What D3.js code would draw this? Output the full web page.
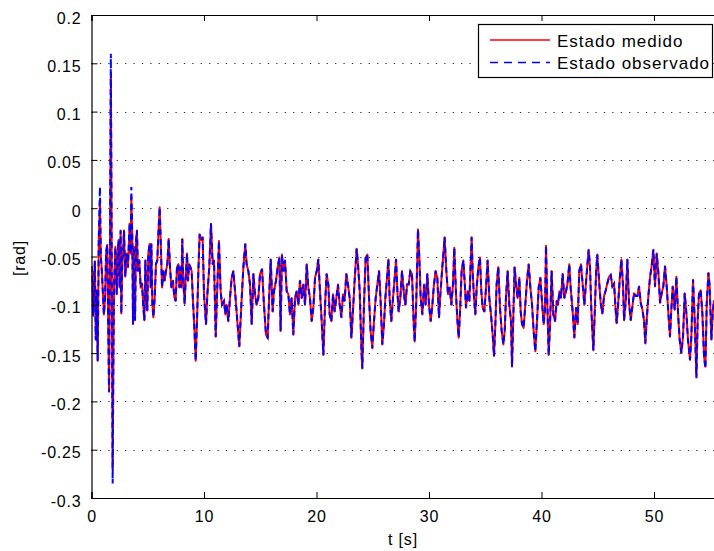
<!DOCTYPE html>
<html>
<head>
<meta charset="utf-8">
<script src="https://cdn.jsdelivr.net/npm/d3@7"></script>
<style>
  html, body { margin: 0; padding: 0; background: #ffffff; }
  svg { display: block; }
  text { font-family: "Liberation Sans", Arial, Helvetica, sans-serif; fill: #000; }
</style>
</head>
<body>
<svg id="chart" width="714" height="551"></svg>
<script>
// Time base [s]
const tiempo = [
  0.00, 0.08, 0.15, 0.22, 0.30, 0.38, 0.46, 0.55, 0.65, 0.75, 0.83, 0.92, 1.00, 1.10, 1.20, 1.30, 1.40, 1.56, 1.64, 1.72, 1.80, 1.88, 1.95,
  2.00, 2.12, 2.24, 2.33, 2.41, 2.50, 2.59, 2.65, 2.74, 2.83, 2.89, 3.00, 3.13, 3.24, 3.39, 3.48, 3.54, 3.63, 3.69, 3.78, 3.87, 3.96,
  4.04, 4.13, 4.25, 4.37, 4.49, 4.61, 4.70, 4.79, 4.87, 4.96, 5.05, 5.17, 5.26, 5.32, 5.41, 5.50, 5.62, 5.73, 5.85, 5.97, 6.06, 6.15,
  6.27, 6.39, 6.50, 6.62, 6.74, 6.86, 6.98, 7.10, 7.24, 7.36, 7.48, 7.60, 7.72, 7.81, 7.90, 7.99, 8.07, 8.16, 8.28, 8.40, 8.49, 8.58,
  8.67, 8.79, 8.90, 9.02, 9.14, 9.26, 9.38, 9.50, 9.61, 9.76,
  9.88, 10.00, 10.18, 10.30, 10.47, 10.62, 10.77, 10.89, 11.04, 11.18, 11.33, 11.48, 11.60, 11.78, 11.90, 12.01, 12.16, 12.31, 12.46,
  12.61, 12.76, 12.96, 13.14, 13.32, 13.50, 13.67, 13.79, 13.94, 14.09, 14.24, 14.39, 14.53, 14.68, 14.83, 14.98, 15.16, 15.33, 15.51,
  15.66, 15.81, 15.93, 16.10, 16.22, 16.40, 16.55, 16.70, 16.81, 16.93, 17.05, 17.20, 17.35, 17.50, 17.64, 17.79, 17.94, 18.09, 18.24,
  18.39, 18.53, 18.68, 18.83, 18.98, 19.13, 19.27, 19.42, 19.57, 19.72, 19.87, 20.02, 20.16, 20.31, 20.46, 20.61, 20.76, 20.90, 21.05,
  21.17, 21.32, 21.47, 21.61, 21.76, 21.91, 22.06, 22.21, 22.36, 22.50, 22.65, 22.80, 22.95, 23.10, 23.24, 23.39, 23.57, 23.69, 23.84,
  23.99, 24.07, 24.22, 24.37, 24.52, 24.67, 24.81, 24.96, 25.11, 25.26, 25.41, 25.56, 25.70, 25.85, 26.00, 26.12, 26.27, 26.39, 26.50,
  26.65, 26.80, 26.95, 27.07, 27.19, 27.30, 27.45, 27.60, 27.75, 27.90, 28.05, 28.19, 28.34, 28.49, 28.64, 28.73, 28.87, 29.02, 29.14,
  29.26, 29.41, 29.56, 29.70, 29.85, 30.00, 30.15, 30.30, 30.44, 30.59, 30.74, 30.89, 31.01, 31.16, 31.30, 31.39, 31.54, 31.69, 31.84,
  31.99, 32.13, 32.25, 32.40,
  32.52, 32.64, 32.76, 32.90, 33.05, 33.20, 33.29, 33.44, 33.59, 33.70, 33.79, 33.88, 34.00, 34.12, 34.24, 34.39, 34.53, 34.65, 34.77,
  34.92, 35.07, 35.21, 35.36, 35.51, 35.66, 35.78, 35.90, 36.01, 36.16, 36.31, 36.46, 36.61, 36.73, 36.84, 36.99, 37.14, 37.29, 37.38,
  37.50, 37.61, 37.76, 37.88, 38.03, 38.15, 38.27, 38.41, 38.56, 38.71, 38.86, 39.01, 39.16, 39.30, 39.45, 39.60, 39.75, 39.90, 40.04,
  40.19, 40.31, 40.40, 40.52, 40.64, 40.76, 40.90, 41.05, 41.20, 41.35, 41.47, 41.59, 41.73, 41.88, 42.03, 42.18, 42.30, 42.47, 42.59,
  42.77, 42.92, 43.07, 43.21, 43.36, 43.51, 43.66, 43.81,
  43.93, 44.07, 44.19, 44.31, 44.43, 44.61, 44.73, 44.85, 44.96, 45.11, 45.26, 45.41, 45.56, 45.71, 45.85, 46.00, 46.15, 46.30, 46.45,
  46.59, 46.68, 46.80, 46.95, 47.10, 47.25, 47.34, 47.48, 47.63, 47.78, 47.93, 48.08, 48.22, 48.37, 48.52, 48.67, 48.82, 48.97, 49.11,
  49.23, 49.35, 49.50, 49.65, 49.79, 49.94, 50.09, 50.24, 50.39, 50.54, 50.68, 50.83, 50.98, 51.13, 51.28, 51.42, 51.54, 51.66, 51.84,
  51.99, 52.14, 52.28, 52.43, 52.58, 52.73, 52.88, 53.02, 53.20, 53.32, 53.47, 53.62, 53.77, 53.88, 54.00, 54.15, 54.30, 54.45, 54.57,
  54.69, 54.84, 54.95, 55.10, 55.22, 55.33
];

// Measured state [rad]
const estadoMedido = [
  -0.060, -0.085, -0.110, -0.075, -0.055, -0.135, -0.085, -0.158, -0.030, 0.006, -0.050, -0.065, -0.085, -0.110, -0.095, -0.045, -0.038, -0.190, -0.050, 0.140, -0.060, -0.270, -0.150,
  -0.082, -0.040, -0.089, -0.047, -0.033, -0.082, -0.023, -0.109, -0.054, -0.040, -0.023, -0.071, -0.047, -0.061, -0.016, -0.047, 0.012, -0.033, -0.120, -0.040, -0.116, -0.033,
  -0.023, -0.065, -0.054, -0.082, -0.078, -0.102, -0.116, -0.054, -0.092, -0.106, -0.047, -0.037, -0.082, -0.037, -0.099, -0.113, -0.092, -0.058, -0.054, -0.020, 0.001, -0.033,
  -0.082, -0.065, -0.075, -0.065, -0.058, -0.032, -0.061, -0.082, -0.075, -0.092, -0.096, -0.061, -0.058, -0.082, -0.061, -0.082, -0.032, -0.075, -0.099, -0.065, -0.047, -0.075,
  -0.058, -0.061, -0.065, -0.096, -0.123, -0.158, -0.116, -0.065, -0.027, -0.033,
  -0.030, -0.089, -0.120, -0.089, -0.061, -0.016, -0.058, -0.054, -0.133, -0.082, -0.034, -0.086, -0.100, -0.096, -0.110, -0.100, -0.117, -0.093, -0.072,
  -0.065, -0.086, -0.117, -0.143, -0.100, -0.061, -0.037, -0.058, -0.065, -0.079, -0.120, -0.068, -0.089, -0.100, -0.093, -0.068, -0.063, -0.100, -0.131,
  -0.134, -0.086, -0.053, -0.107, -0.086, -0.075, -0.061, -0.051, -0.127, -0.048, -0.065, -0.054, -0.086, -0.089, -0.110, -0.093, -0.131, -0.093, -0.086,
  -0.100, -0.075, -0.093, -0.079, -0.100, -0.058, -0.082, -0.093, -0.117, -0.103, -0.072, -0.065, -0.053, -0.086, -0.117, -0.152, -0.100, -0.068, -0.079,
  -0.110, -0.117, -0.089, -0.107, -0.093, -0.079, -0.100, -0.113, -0.089, -0.096, -0.068, -0.079, -0.093, -0.134, -0.107, -0.075, -0.042, -0.058, -0.086,
  -0.145, -0.166, -0.100, -0.051, -0.048, -0.093, -0.127, -0.145, -0.117, -0.093, -0.079, -0.065, -0.096, -0.141, -0.120, -0.093, -0.072, -0.053, -0.093,
  -0.117, -0.093, -0.072, -0.053, -0.086, -0.107, -0.093, -0.065, -0.086, -0.100, -0.079, -0.079, -0.065, -0.068, -0.120, -0.138, -0.096, -0.022, -0.051,
  -0.093, -0.110, -0.079, -0.100, -0.068, -0.100, -0.117, -0.100, -0.079, -0.065, -0.072, -0.113, -0.089, -0.065, -0.044, -0.030, -0.065, -0.089, -0.082,
  -0.100, -0.079, -0.041, -0.089,
  -0.115, -0.134, -0.107, -0.065, -0.054, -0.082, -0.103, -0.086, -0.096, -0.058, -0.030, -0.065, -0.093, -0.110, -0.082, -0.061, -0.051, -0.086, -0.103,
  -0.107, -0.082, -0.054, -0.093, -0.110, -0.131, -0.153, -0.120, -0.079, -0.061, -0.103, -0.127, -0.141, -0.127, -0.093, -0.065, -0.100, -0.117, -0.164,
  -0.110, -0.061, -0.082, -0.093, -0.072, -0.107, -0.120, -0.124, -0.100, -0.075, -0.058, -0.082, -0.100, -0.127, -0.148, -0.117, -0.082, -0.072, -0.096,
  -0.120, -0.105, -0.039, -0.100, -0.152, -0.120, -0.065, -0.110, -0.117, -0.096, -0.100, -0.086, -0.093, -0.068, -0.093, -0.086, -0.079, -0.058, -0.082,
  -0.107, -0.134, -0.103, -0.120, -0.065, -0.058, -0.079, -0.100,
  -0.081, -0.060, -0.043, -0.060, -0.105, -0.147, -0.109, -0.067, -0.048, -0.074, -0.098, -0.109, -0.091, -0.085, -0.078, -0.071, -0.069, -0.081, -0.078,
  -0.105, -0.119, -0.102, -0.074, -0.053, -0.081, -0.116, -0.098, -0.053, -0.098, -0.116, -0.102, -0.088, -0.091, -0.091, -0.081, -0.098, -0.105, -0.116,
  -0.140, -0.116, -0.091, -0.071, -0.060, -0.043, -0.081, -0.047, -0.067, -0.098, -0.088, -0.081, -0.060, -0.081, -0.109, -0.133, -0.105, -0.081, -0.105,
  -0.071, -0.109, -0.136, -0.150, -0.133, -0.088, -0.109, -0.136, -0.157, -0.133, -0.074, -0.116, -0.174, -0.116, -0.088, -0.085, -0.109, -0.154, -0.164,
  -0.098, -0.067, -0.081, -0.136, -0.109, -0.095
];

// Observed state [rad]
const estadoObservado = [
  -0.060, -0.085, -0.112, -0.075, -0.055, -0.137, -0.085, -0.158, -0.030, 0.022, -0.050, -0.065, -0.085, -0.110, -0.095, -0.045, -0.038, -0.190, -0.050, 0.160, -0.060, -0.285, -0.150,
  -0.082, -0.040, -0.089, -0.047, -0.033, -0.082, -0.023, -0.109, -0.054, -0.040, -0.023, -0.071, -0.047, -0.061, -0.016, -0.047, 0.022, -0.033, -0.120, -0.040, -0.116, -0.033,
  -0.023, -0.065, -0.054, -0.082, -0.078, -0.102, -0.116, -0.054, -0.092, -0.106, -0.047, -0.037, -0.082, -0.037, -0.099, -0.113, -0.092, -0.058, -0.054, -0.020, 0.001, -0.033,
  -0.082, -0.065, -0.075, -0.065, -0.058, -0.032, -0.061, -0.082, -0.075, -0.092, -0.096, -0.061, -0.058, -0.082, -0.061, -0.082, -0.032, -0.075, -0.099, -0.065, -0.047, -0.075,
  -0.058, -0.061, -0.065, -0.096, -0.123, -0.158, -0.116, -0.065, -0.027, -0.033,
  -0.030, -0.089, -0.120, -0.089, -0.061, -0.016, -0.058, -0.054, -0.133, -0.082, -0.034, -0.086, -0.100, -0.096, -0.110, -0.100, -0.117, -0.093, -0.072,
  -0.065, -0.086, -0.117, -0.143, -0.100, -0.061, -0.037, -0.058, -0.065, -0.079, -0.120, -0.068, -0.089, -0.100, -0.093, -0.068, -0.063, -0.100, -0.131,
  -0.134, -0.086, -0.053, -0.107, -0.086, -0.075, -0.061, -0.051, -0.127, -0.048, -0.065, -0.054, -0.086, -0.089, -0.110, -0.093, -0.131, -0.093, -0.086,
  -0.100, -0.075, -0.093, -0.079, -0.100, -0.058, -0.082, -0.093, -0.117, -0.103, -0.072, -0.065, -0.053, -0.086, -0.117, -0.152, -0.100, -0.068, -0.079,
  -0.110, -0.117, -0.089, -0.107, -0.093, -0.079, -0.100, -0.113, -0.089, -0.096, -0.068, -0.079, -0.093, -0.134, -0.107, -0.075, -0.042, -0.058, -0.086,
  -0.145, -0.166, -0.100, -0.051, -0.048, -0.093, -0.127, -0.145, -0.117, -0.093, -0.079, -0.065, -0.096, -0.141, -0.120, -0.093, -0.072, -0.053, -0.093,
  -0.117, -0.093, -0.072, -0.053, -0.086, -0.107, -0.093, -0.065, -0.086, -0.100, -0.079, -0.079, -0.065, -0.068, -0.120, -0.138, -0.096, -0.022, -0.051,
  -0.093, -0.110, -0.079, -0.100, -0.068, -0.100, -0.117, -0.100, -0.079, -0.065, -0.072, -0.113, -0.089, -0.065, -0.044, -0.030, -0.065, -0.089, -0.082,
  -0.100, -0.079, -0.041, -0.089,
  -0.115, -0.134, -0.107, -0.065, -0.054, -0.082, -0.103, -0.086, -0.096, -0.058, -0.030, -0.065, -0.093, -0.110, -0.082, -0.061, -0.051, -0.086, -0.103,
  -0.107, -0.082, -0.054, -0.093, -0.110, -0.131, -0.153, -0.120, -0.079, -0.061, -0.103, -0.127, -0.141, -0.127, -0.093, -0.065, -0.100, -0.117, -0.164,
  -0.110, -0.061, -0.082, -0.093, -0.072, -0.107, -0.120, -0.124, -0.100, -0.075, -0.058, -0.082, -0.100, -0.127, -0.148, -0.117, -0.082, -0.072, -0.096,
  -0.120, -0.105, -0.039, -0.100, -0.152, -0.120, -0.065, -0.110, -0.117, -0.096, -0.100, -0.086, -0.093, -0.068, -0.093, -0.086, -0.079, -0.058, -0.082,
  -0.107, -0.134, -0.103, -0.120, -0.065, -0.058, -0.079, -0.100,
  -0.081, -0.060, -0.043, -0.060, -0.105, -0.147, -0.109, -0.067, -0.048, -0.074, -0.098, -0.109, -0.091, -0.085, -0.078, -0.071, -0.069, -0.081, -0.078,
  -0.105, -0.119, -0.102, -0.074, -0.053, -0.081, -0.116, -0.098, -0.053, -0.098, -0.116, -0.102, -0.088, -0.091, -0.091, -0.081, -0.098, -0.105, -0.116,
  -0.140, -0.116, -0.091, -0.071, -0.060, -0.043, -0.081, -0.047, -0.067, -0.098, -0.088, -0.081, -0.060, -0.081, -0.109, -0.133, -0.105, -0.081, -0.105,
  -0.071, -0.109, -0.136, -0.150, -0.133, -0.088, -0.109, -0.136, -0.157, -0.133, -0.074, -0.116, -0.176, -0.116, -0.088, -0.085, -0.109, -0.154, -0.166,
  -0.098, -0.067, -0.081, -0.136, -0.109, -0.095
];

const xTicks = [0, 10, 20, 30, 40, 50];
const yTicks = [0.2, 0.15, 0.1, 0.05, 0, -0.05, -0.1, -0.15, -0.2, -0.25, -0.3];
const yTickLabels = ["0.2", "0.15", "0.1", "0.05", "0", "-0.05", "-0.1", "-0.15", "-0.2", "-0.25", "-0.3"];
const seriesNames = ["Estado medido", "Estado observado"];
const seriesColors = ["#ff0000", "#0000ff"];

// Axes box
const boxLeft = 91.5, boxRight = 721.5, boxTop = 15, boxBottom = 498;
const x = d3.scaleLinear().domain([0, 56]).range([boxLeft, boxRight]);
const y = d3.scaleLinear().domain([-0.3, 0.2]).range([boxBottom, boxTop]);

const svg = d3.select("#chart");

svg.append("defs").append("clipPath").attr("id", "plotClip")
  .append("rect").attr("x", boxLeft).attr("y", boxTop)
  .attr("width", boxRight - boxLeft).attr("height", boxBottom - boxTop);

// Horizontal dotted grid
svg.append("g").selectAll("line")
  .data(yTicks.filter(v => v < 0.2 - 1e-9 && v > -0.3 + 1e-9))
  .join("line")
  .attr("x1", boxLeft).attr("x2", boxRight)
  .attr("y1", d => Math.round(y(d)) + 0.5).attr("y2", d => Math.round(y(d)) + 0.5)
  .attr("stroke", "#222").attr("stroke-width", 1)
  .attr("stroke-dasharray", "1.2 7.2");

// Series
const rows = tiempo.map((t, i) => ({ t, m: estadoMedido[i], o: estadoObservado[i] }));
const plot = svg.append("g").attr("clip-path", "url(#plotClip)");
plot.append("path").datum(rows.filter(d => d.m !== undefined))
  .attr("fill", "none").attr("stroke", seriesColors[0]).attr("stroke-width", 2)
  .attr("stroke-linejoin", "round")
  .attr("d", d3.line().x(d => x(d.t)).y(d => y(d.m)));
plot.append("path").datum(rows.filter(d => d.o !== undefined))
  .attr("fill", "none").attr("stroke", seriesColors[1]).attr("stroke-width", 2)
  .attr("stroke-dasharray", "6 4")
  .attr("d", d3.line().x(d => x(d.t)).y(d => y(d.o)));

// Axes: left and bottom with inward ticks, plus the top edge of the box
const yAxis = d3.axisLeft(y).tickValues(yTicks).tickSize(-6)
  .tickFormat((d, i) => yTickLabels[i]).tickPadding(10);
const gy = svg.append("g").attr("transform", `translate(${boxLeft},0)`).call(yAxis);
const xAxis = d3.axisBottom(x).tickValues(xTicks).tickSize(-6)
  .tickFormat(d3.format("d")).tickPadding(12);
const gx = svg.append("g").attr("transform", `translate(0,${boxBottom})`).call(xAxis);
const xAxisTop = d3.axisTop(x).tickValues(xTicks).tickSize(-6).tickFormat("");
const gxt = svg.append("g").attr("transform", `translate(0,${boxTop})`).call(xAxisTop);

[gy, gx, gxt].forEach(g => {
  g.select(".domain").attr("stroke", "#000").attr("stroke-width", 1.2);
  g.selectAll(".tick line").attr("stroke", "#000").attr("stroke-width", 1);
  g.selectAll("text").attr("font-family", "Liberation Sans, Arial, sans-serif")
    .attr("font-size", 16).attr("fill", "#000").style("letter-spacing", "0.8px");
});
gy.selectAll(".tick text").attr("dy", "0.5em");
gx.selectAll(".tick text").attr("dy", "0.72em");

// Axis titles
svg.append("text").attr("x", 403).attr("y", 545).attr("text-anchor", "middle")
  .attr("font-size", 16).style("letter-spacing", "0.8px").text("t [s]");
svg.append("text").attr("transform", "translate(25,258) rotate(-90)").attr("text-anchor", "middle")
  .attr("font-size", 16).style("letter-spacing", "0.8px").text("[rad]");

// Legend
const lg = svg.append("g");
lg.append("rect").attr("x", 478.5).attr("y", 24.5).attr("width", 234).attr("height", 53)
  .attr("fill", "#fff").attr("stroke", "#000").attr("stroke-width", 1.2);
const legendRows = [40, 62.5];
seriesNames.forEach((name, i) => {
  lg.append("line").attr("x1", 490).attr("x2", 550).attr("y1", legendRows[i]).attr("y2", legendRows[i])
    .attr("stroke", seriesColors[i]).attr("stroke-width", 1.4)
    .attr("stroke-dasharray", i === 1 ? "8 6" : null);
  lg.append("text").attr("x", 557).attr("y", legendRows[i] + 6.5)
    .attr("font-size", 17).style("letter-spacing", "1px").text(name);
});
</script>
</body>
</html>
